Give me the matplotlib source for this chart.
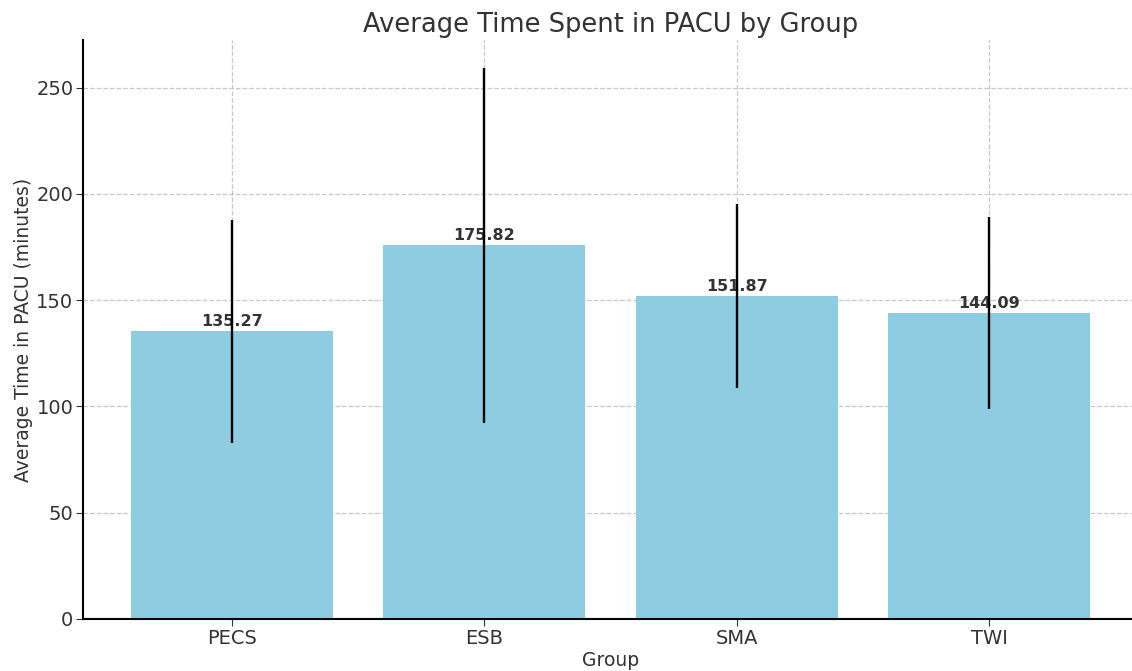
import matplotlib
matplotlib.use("Agg")
import matplotlib.pyplot as plt

groups = ["PECS", "ESB", "SMA", "TWI"]
means = [135.27, 175.82, 151.87, 144.09]
sds = [52.3, 83.6, 43.3, 45.1]

fig = plt.figure(figsize=(11.32, 6.71), dpi=100)
ax = fig.add_axes([83/1132, 52/671, (1138-83)/1132, (619-40)/671])

bars = ax.bar(groups, means, yerr=sds, color="#8ECCE1", width=0.8,
              error_kw=dict(ecolor="black", elinewidth=1.7, capsize=0, zorder=4))
for b, m in zip(bars, means):
    ax.text(b.get_x() + b.get_width()/2, m + 1.0, f"{m:.2f}", ha="center", va="bottom",
            fontsize=11.5, fontweight="bold", color="#333333", zorder=3)

ax.set_title("Average Time Spent in PACU by Group", fontsize=18.5, color="#333333", pad=6)
ax.set_xlabel("Group", fontsize=13.5, color="#333333", labelpad=2)
ax.set_ylabel("Average Time in PACU (minutes)", fontsize=13.5, color="#333333", labelpad=2.5)
ax.tick_params(labelsize=14, colors="#333333", length=5)
ax.tick_params(axis="x", pad=2)
ax.tick_params(axis="y", pad=2)
ax.grid(True, linestyle="--", color="#bbbbbb", linewidth=0.9, alpha=0.8)
ax.set_axisbelow(True)
ax.spines["top"].set_visible(False)
ax.spines["right"].set_visible(False)
ax.spines["left"].set_linewidth(1.5)
ax.spines["bottom"].set_linewidth(1.5)

fig.savefig("out.png", dpi=100)
